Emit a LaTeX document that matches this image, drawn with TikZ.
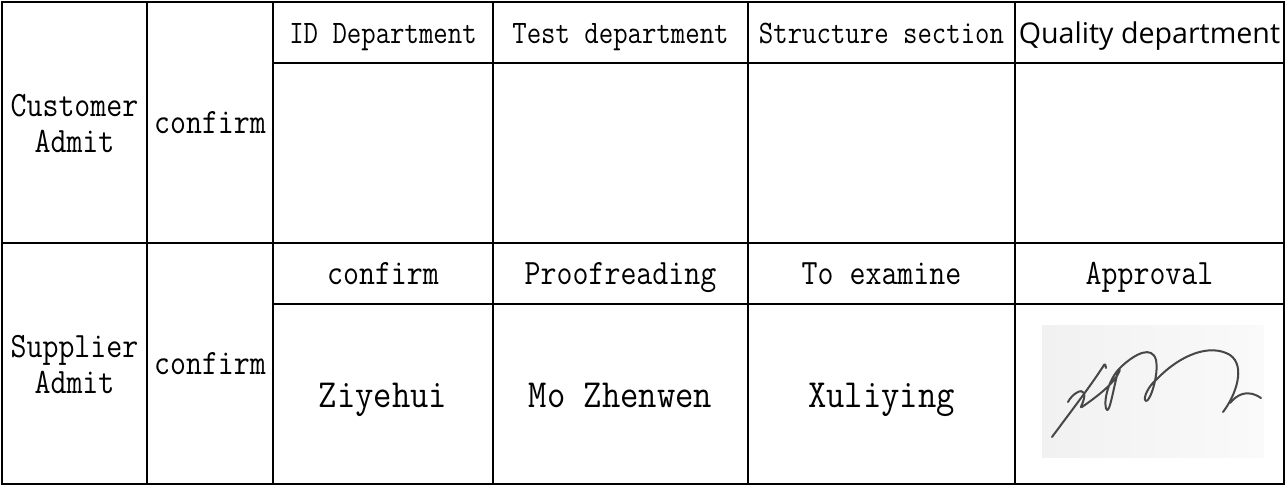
\documentclass[tikz,border=0pt]{standalone}
\usepackage{fontspec}
\usepackage{xcolor}
\usepackage{tikz}
\newfontfamily\qualfont{Open Sans}
\definecolor{sigink}{HTML}{474747}
\tikzset{
  gridline/.style={draw=black, line width=1.2pt},
  headsmall/.style={font=\ttfamily\fontsize{14}{16}\selectfont, inner sep=0pt, text height=8.6pt, text depth=0pt, yscale=1.17, transform shape},
  cell/.style={font=\ttfamily\fontsize{15.5}{17.5}\selectfont, inner sep=0pt, text height=9.5pt, text depth=0pt, yscale=1.15, transform shape},
  sidecell/.style={font=\ttfamily\fontsize{15.5}{15.5}\selectfont, align=center, inner sep=0pt, yscale=1.15, transform shape},
  namecell/.style={font=\ttfamily\fontsize{17.8}{20}\selectfont, inner sep=0pt, text height=10.9pt, text depth=0pt, yscale=1.12, transform shape},
  qualcell/.style={font=\qualfont\fontsize{14.3}{16}\selectfont, inner sep=0pt, text height=10.2pt, text depth=0pt},
  ink/.style={draw=sigink, line width=1pt, line cap=round, line join=round}
}

\begin{document}
\begin{tikzpicture}[x=0.5pt, y=-0.5pt]
  \useasboundingbox (0,0) rectangle (1286,486);
  \fill[white] (0,0) rectangle (1286,486);
  % grid
  \draw[gridline] (2,2) rectangle (1284,484);
  \foreach \x in {147,273,493,748,1015}
    \draw[gridline] (\x,2) -- (\x,484);
  \draw[gridline] (2,243) -- (1284,243);
  \foreach \y in {63,304}
    \draw[gridline] (273,\y) -- (1284,\y);
  % customer part
  \node[sidecell] (custadmit) at (74.5,123.5) {Customer\\Admit};
  \node[cell] (custconf) at (210,122.5) {confirm};
  \node[headsmall] (iddep) at (383,33) {ID Department};
  \node[headsmall] (testdep) at (620.5,33) {Test department};
  \node[headsmall] (structsec) at (881.5,33) {Structure section};
  \node[qualcell] (qualdep) at (1149.5,33) {Quality department};
  % supplier part
  \node[sidecell] (suppadmit) at (74.5,364.5) {Supplier\\Admit};
  \node[cell] (suppconf) at (210,363.5) {confirm};
  \node[cell] (confhead) at (383,273.5) {confirm};
  \node[cell] (proofhead) at (620.5,273.5) {Proofreading};
  \node[cell] (examhead) at (881.5,273.5) {To examine};
  \node[cell] (apprhead) at (1149.5,273.5) {Approval};
  \node[namecell] (ziye) at (383,395) {Ziyehui};
  \node[namecell] (mozhen) at (620.5,395) {Mo Zhenwen};
  \node[namecell] (xuli) at (881.5,395) {Xuliying};
  % signature
  \shade[left color=gray!11, right color=gray!4] (1042,326) rectangle (1264,457);
  \draw[ink] (1052,437) .. controls (1072,410) and (1092,384) .. (1104,365) .. controls (1105,363) and (1106,366) .. (1106,368);
  \draw[ink] (1068,402) .. controls (1072,394) and (1082,388) .. (1084,393) .. controls (1086,400) and (1078,410) .. (1082,407)
    .. controls (1092,400) and (1106,390) .. (1114,380) .. controls (1122,370) and (1120,366) .. (1118,372)
    .. controls (1114,385) and (1110,412) .. (1107,410) .. controls (1103,407) and (1106,380) .. (1122,366)
    .. controls (1135,354) and (1152,345) .. (1156,360) .. controls (1159,375) and (1150,402) .. (1146,401)
    .. controls (1142,399) and (1149,385) .. (1157,379) .. controls (1180,355) and (1210,343) .. (1230,355)
    .. controls (1246,366) and (1236,395) .. (1223,412);
  \draw[ink] (1230,403) .. controls (1236,396) and (1246,388) .. (1261,398);
\end{tikzpicture}
\end{document}
